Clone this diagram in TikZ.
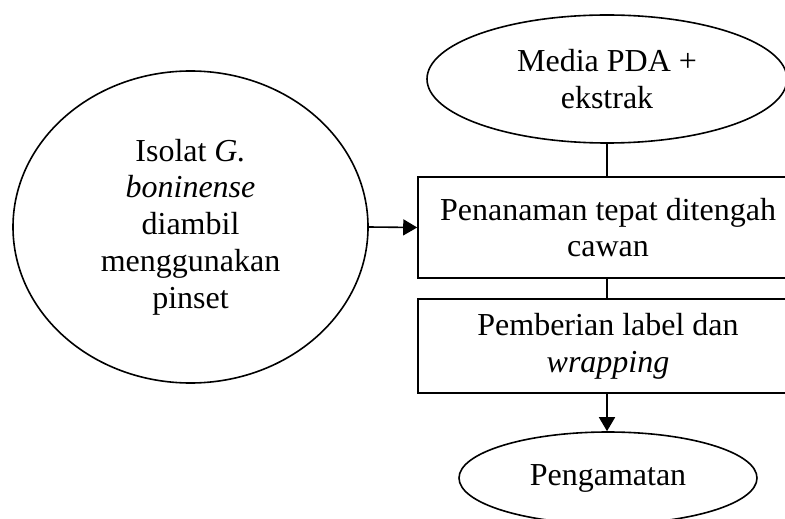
\documentclass[tikz,border=0pt]{standalone}
\usepackage{fontspec}
\setmainfont{Liberation Serif}
\usetikzlibrary{shapes.geometric,arrows.meta}
\begin{document}
\begin{tikzpicture}[x=0.5pt,y=-0.5pt,
  every node/.style={font=\fontsize{16}{18.4}\selectfont, align=center, inner sep=0pt},
  oval/.style={draw, line width=0.8pt, ellipse},
  box/.style={draw, line width=0.8pt, rectangle},
  arr/.style={line width=0.8pt, -{Triangle[length=7pt,width=8pt]}},
  con/.style={line width=0.8pt}]
\useasboundingbox (0,0) rectangle (785,518);
\clip (0,0) rectangle (785,518);
\node[oval, minimum width=177.5pt, minimum height=156pt] (iso) at (190.5,227)
  {Isolat \textit{G.}\\ \textit{boninense}\\ diambil\\ menggunakan\\ pinset};
\node[oval, minimum width=180pt, minimum height=64pt] (media) at (607,79)
  {Media PDA +\\ ekstrak};
\node[box, minimum width=190pt, minimum height=50.5pt] (tanam) at (608,227.5)
  {Penanaman tepat ditengah\\ cawan};
\node[box, minimum width=190pt, minimum height=47pt] (label) at (608,346)
  {Pemberian label dan\\ \textit{wrapping}};
\node[oval, minimum width=149pt, minimum height=46pt] (amat) at (608,478)
  {Pengamatan};
\draw[arr] (iso.east) -- (tanam.west);
\draw[con] (media.south) -- (media.south |- tanam.north);
\coordinate (c1) at (607,0);
\draw[con] (c1 |- tanam.south) -- (c1 |- label.north);
\draw[arr] (c1 |- label.south) -- (c1 |- amat.north);
\end{tikzpicture}
\end{document}
